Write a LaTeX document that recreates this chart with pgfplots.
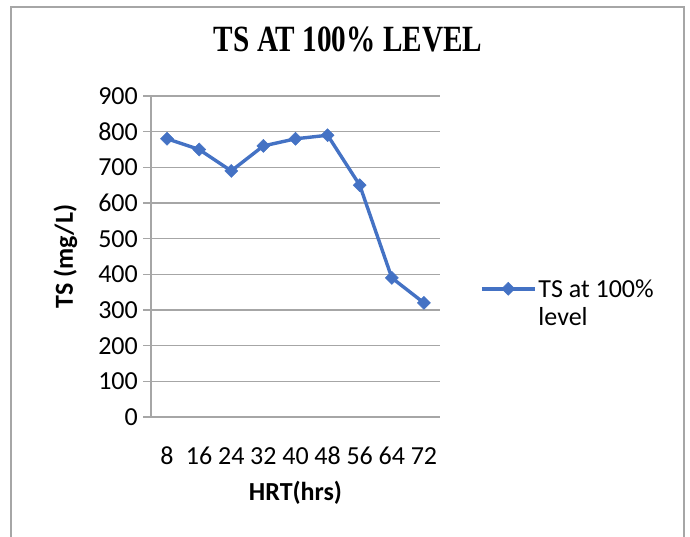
\documentclass[border=0pt]{standalone}
\usepackage{pgfplots}
\pgfplotsset{compat=1.18}
\usepackage{graphicx}
\usepackage{fontspec}
\setmainfont{Carlito}
\newfontfamily\titlefont{Liberation Serif}
\definecolor{serblue}{RGB}{68,114,196}
\definecolor{gridgray}{RGB}{166,166,166}
\begin{document}
\begin{tikzpicture}[x=1pt,y=1pt]
\useasboundingbox (0,0) rectangle (690,537);
\begin{axis}[
  at={(151pt,120pt)}, anchor=south west,
  scale only axis, width=289pt, height=321pt,
  xmin=0.5, xmax=9.5, ymin=0, ymax=900,
  xtick={1,...,9},
  xticklabels={8,16,24,32,40,48,56,64,72},
  ytick={0,100,...,900},
  axis x line=bottom, axis y line=left,
  axis line style={-},
  x axis line style={draw=none},
  y axis line style={draw=gridgray, line width=1.3pt},
  ymajorgrids, grid style={draw=gridgray, line width=1.3pt},
  tick align=outside, major tick length=8pt,
  xtick style={draw=none},
  ytick style={draw=gridgray, line width=1.3pt},
  /pgf/number format/assume math mode=true,
  every tick label/.append style={font=\fontsize{26}{31}\selectfont},
  yticklabel style={inner sep=0pt, xshift=-5pt},
  xticklabel style={inner sep=0pt, yshift=-22pt},
  xlabel={\bfseries HRT(hrs)},
  ylabel={\bfseries TS (mg/L)},
  xlabel style={at={(axis description cs:0.5,-0.2586)}, anchor=base, inner sep=0pt, font=\fontsize{26}{31}\selectfont},
  ylabel style={at={(axis description cs:-0.27,0.5)}, anchor=base, inner sep=0pt, font=\fontsize{26}{31}\selectfont},
  title={\scalebox{0.79}[1]{\titlefont\fontsize{37}{42}\selectfont\bfseries TS AT 100\% LEVEL}},
  title style={at={(axis description cs:0.682,1.1206)}, anchor=base, inner sep=0pt},
  legend style={at={(axis description cs:1.138,0.433)}, anchor=north west, draw=none, fill=none,
    inner sep=0pt, font=\fontsize{26}{28}\selectfont, cells={align=left}},
  legend image code/.code={\draw[mark repeat=2,mark phase=2,#1] plot coordinates {(0pt,15pt)(26.5pt,15pt)(53pt,15pt)};},
  clip=false,
]
\addplot[color=serblue, line width=3.4pt, mark=square*, mark size=4.6pt, mark options={fill=serblue, draw=serblue, line width=0.5pt, rotate=45}]
  coordinates {(1,780) (2,750) (3,690) (4,760) (5,780) (6,790) (7,650) (8,390) (9,320)};
\legend{TS at 100\%\\level}
\end{axis}
\draw[gridgray, line width=1.5pt] (11,0) -- (11,530) -- (684,530) -- (684,0);
\end{tikzpicture}
\end{document}
